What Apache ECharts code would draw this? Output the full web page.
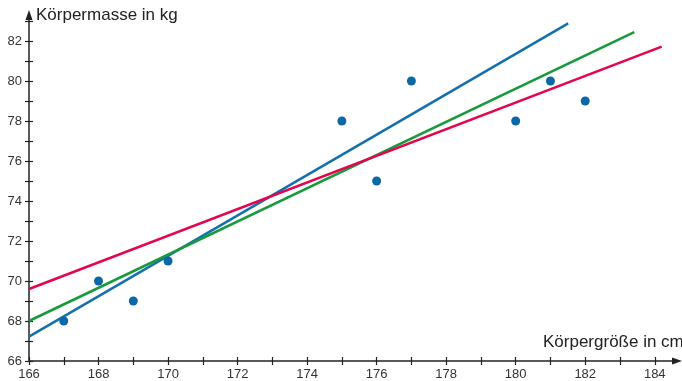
<!DOCTYPE html>
<html>
<head>
<meta charset="utf-8">
<script src="https://cdn.jsdelivr.net/npm/echarts@6/dist/echarts.min.js"></script>
<style>
  html, body { margin: 0; padding: 0; background: #fff; }
  #chart { width: 682px; height: 381px; }
</style>
</head>
<body>
<div id="chart"></div>
<script>
// measured points (Körpergröße cm, Körpermasse kg)
var heights = [167, 168, 169, 170, 175, 176, 177, 180, 181, 182];
var masses  = [68, 70, 69, 71, 78, 75, 80, 78, 80, 79];

// the three straight lines, start and end
var blueLine  = [[166, 67.22], [181.51, 82.88]];
var greenLine = [[166, 68.0], [183.41, 82.44]];
var redLine   = [[166, 69.6], [184.2, 81.72]];

var xTicks  = [166, 167, 168, 169, 170, 171, 172, 173, 174, 175, 176, 177, 178, 179, 180, 181, 182, 183, 184];
var xLabels = [166, 168, 170, 172, 174, 176, 178, 180, 182, 184];
var yTicks  = [66, 67, 68, 69, 70, 71, 72, 73, 74, 75, 76, 77, 78, 79, 80, 81, 82, 83];
var yLabels = [66, 68, 70, 72, 74, 76, 78, 80, 82];

var points = heights.map(function (h, i) { return [h, masses[i]]; });

var axisColor = '#222';
var labelFont = '"Liberation Sans", sans-serif';

function mainAxis(ticks, labels, isX) {
  return {
    type: 'value',
    min: isX ? 166 : 66,
    max: isX ? 184.64 : 83.3,
    position: isX ? 'bottom' : 'left',
    splitLine: { show: false },
    axisLine: {
      show: true, onZero: false,
      symbol: ['none', 'triangle'], symbolSize: [7, 10],
      lineStyle: { color: axisColor, width: 1.5 }
    },
    axisTick: { show: true, length: 4, customValues: ticks, lineStyle: { color: axisColor, width: 1.2 } },
    axisLabel: {
      show: true, customValues: labels, margin: isX ? 7 : 7,
      color: '#333', fontSize: 13, fontFamily: labelFont
    }
  };
}

function innerTicks(ticks, isX) {
  return {
    type: 'value',
    min: isX ? 166 : 66,
    max: isX ? 184.64 : 83.3,
    position: isX ? 'bottom' : 'left',
    splitLine: { show: false },
    axisLine: { show: false, onZero: false },
    axisTick: { show: true, inside: true, length: 4, customValues: ticks, lineStyle: { color: axisColor, width: 1.2 } },
    axisLabel: { show: false }
  };
}

var chart = echarts.init(document.getElementById('chart'));

var option = {
  animation: false,
  grid: { left: 29, right: 5, top: 15, bottom: 20, containLabel: false },
  xAxis: [mainAxis(xTicks, xLabels, true), innerTicks(xTicks, true)],
  yAxis: [mainAxis(yTicks, yLabels, false), innerTicks(yTicks, false)],
  graphic: [
    {
      type: 'text', left: 36, top: 7,
      style: { text: 'Körpermasse in kg', font: '17px "Liberation Sans", sans-serif', fill: '#222' }
    },
    {
      type: 'text', x: 543, y: 334,
      style: { text: 'Körpergröße in cm', font: '17px "Liberation Sans", sans-serif', fill: '#222' }
    }
  ],
  series: [
    {
      type: 'line', data: blueLine, symbol: 'none',
      lineStyle: { color: '#1470ad', width: 2.5 }
    },
    {
      type: 'line', data: greenLine, symbol: 'none',
      lineStyle: { color: '#17993c', width: 2.5 }
    },
    {
      type: 'line', data: redLine, symbol: 'none',
      lineStyle: { color: '#e3064f', width: 2.5 }
    },
    {
      type: 'scatter', data: points, symbolSize: 9,
      itemStyle: { color: '#0b68a6', opacity: 1 }, z: 5
    }
  ]
};

chart.setOption(option);
</script>
</body>
</html>
